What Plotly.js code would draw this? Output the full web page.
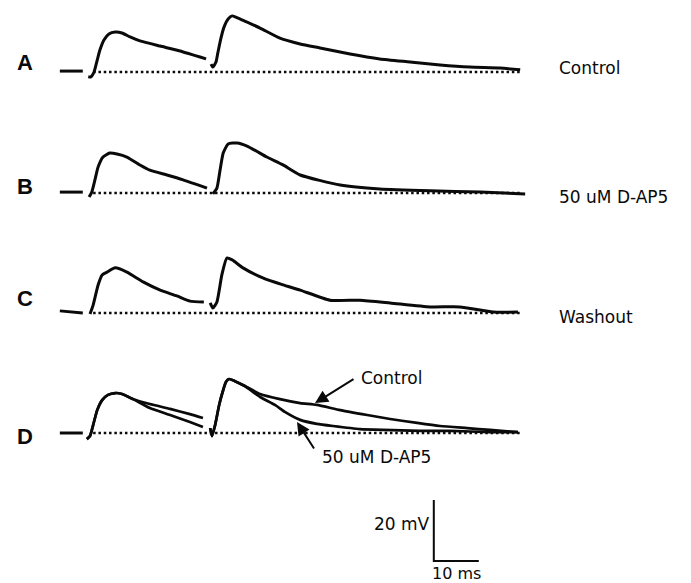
<!DOCTYPE html>
<html>
<head>
<meta charset="utf-8">
<script src="https://cdn.plot.ly/plotly-3.0.1.min.js"></script>
<style>html,body{margin:0;padding:0;background:#fff;}#chart{width:691px;height:583px;}</style>
</head>
<body>
<div id="chart"></div>
<script>
// ---- data (time in ms, membrane potential in mV relative to rest) ----
const panelLetters = ["A", "B", "C", "D"];
const conditionLabels = ["Control", "50 uM D-AP5", "Washout"];
const arrowLabels = ["Control", "50 uM D-AP5"];

const stubT = [-6.7, -1.6];
const stubA = [0.3, 0.3];
const stubB = [0.3, 0.3];
const stubC = [0.7, 0.0];
const stubD = [0.0, 0.0];

const baseT = [0.7, 95.8];
const baseV = [0, 0];

// Panel A - Control
const a1T = [-0.4, 0.2, 0.9, 1.6, 2.2, 3.1, 4.2, 5.6, 7.1, 8.9, 11.1, 15.6, 20.0, 25.8];
const a1V = [-1.6, -1.6, 0.0, 3.9, 7.2, 10.5, 12.5, 13.1, 12.8, 11.5, 10.2, 8.5, 6.9, 4.3];
const a2T = [26.9, 27.3, 28.0, 28.4, 29.1, 29.8, 30.7, 31.6, 32.4, 34.4, 37.8, 42.2, 46.7, 51.1, 57.8, 64.4, 71.1, 77.8, 84.4, 91.1, 95.6];
const a2V = [2.6, 1.6, 3.3, 6.2, 11.1, 14.8, 17.4, 18.4, 18.0, 16.7, 14.4, 11.1, 9.2, 7.9, 5.9, 4.3, 3.3, 2.3, 1.6, 1.3, 0.7];

// Panel B - 50 uM D-AP5
const b1T = [-0.2, 0.4, 1.1, 1.8, 2.9, 4.4, 6.0, 8.2, 11.1, 13.3, 17.1, 20.7, 26.0];
const b1V = [-1.3, 0.3, 4.3, 8.5, 11.8, 13.1, 12.8, 11.8, 9.2, 7.5, 5.9, 4.3, 1.6];
const b2T = [27.3, 28.2, 28.9, 29.6, 30.7, 32.7, 34.9, 39.3, 42.9, 46.7, 55.6, 64.4, 75.6, 86.7, 96.7];
const b2V = [-0.3, 1.6, 7.5, 13.1, 16.1, 16.4, 15.4, 11.8, 9.2, 5.9, 2.6, 1.3, 0.7, 0.3, -0.3];

// Panel C - Washout
const c1T = [0.0, 0.7, 1.8, 2.7, 3.8, 5.6, 8.2, 11.8, 15.6, 19.3, 22.2, 25.3];
const c1V = [-0.3, 2.6, 9.2, 12.5, 13.4, 14.8, 13.4, 10.2, 7.5, 5.6, 3.9, 3.6];
const c2T = [26.7, 27.3, 28.2, 29.3, 30.4, 31.6, 34.0, 38.4, 42.9, 46.7, 53.3, 60.0, 66.7, 75.6, 82.2, 89.6, 95.1];
const c2V = [3.3, 1.6, 3.6, 12.5, 18.0, 17.4, 14.8, 11.5, 9.2, 7.5, 4.2, 4.2, 3.3, 2.0, 2.0, 0.3, 0.3];

// Panel D - superimposed Control and D-AP5
const d1T = [-0.7, 0.0, 0.7, 1.6, 2.7, 4.0, 5.6, 7.1, 9.6, 13.3, 17.8, 22.2, 25.1];
const dCtl1V = [-2.0, -1.0, 2.6, 7.5, 10.8, 12.5, 13.1, 12.8, 11.1, 9.5, 7.9, 6.2, 4.9];
const dAp1V  = [-2.0, -1.0, 2.6, 7.5, 10.8, 12.5, 13.1, 12.8, 11.1, 8.2, 5.9, 3.6, 2.0];
const dCtl2T = [26.7, 27.1, 27.8, 28.7, 29.6, 30.2, 30.9, 32.2, 34.4, 37.8, 42.2, 46.7, 50.4, 55.6, 61.6, 66.7, 72.7, 77.8, 83.8, 88.9, 95.1];
const dCtl2V = [1.6, -1.0, 2.6, 9.2, 14.1, 16.7, 17.7, 17.0, 15.4, 12.8, 11.1, 9.8, 9.2, 7.5, 5.9, 4.6, 3.3, 2.3, 1.6, 1.0, 0.3];
const dAp2T  = [26.7, 27.1, 27.8, 28.7, 29.6, 30.2, 30.9, 32.2, 34.4, 37.8, 41.1, 43.3, 46.7, 50.4, 54.0, 60.0, 65.1, 73.3, 80.0, 88.9, 95.1];
const dAp2V  = [1.6, -1.0, 2.6, 9.2, 14.1, 16.7, 17.7, 17.0, 15.4, 11.8, 9.2, 6.9, 4.3, 3.0, 2.3, 1.3, 1.0, 0.7, 0.7, 0.3, 0.3];

// Scale bar sizes
const scaleMV = 20;
const scaleMS = 10;
const scaleLabels = ["20 mV", "10 ms"];

// ---- layout constants ----
const W = 691, H = 583;
const PX_PER_MS = 4.5, PX_PER_MV = 3.05;
const X0_PX = 90;                       // pixel of t = 0
const baselinePx = [72, 193, 313, 433, 561];
const scaleCornerT = 76.4;

function yRange(b) { const hi = b / PX_PER_MV; return [hi - H / PX_PER_MV, hi]; }
const xRange = [-X0_PX / PX_PER_MS, (W - X0_PX) / PX_PER_MS];

const black = "#0a0a0a";
const traceW = 3;
const axNames = ["y", "y2", "y3", "y4", "y5"];

function line(x, y, ax, w, dash) {
  return {type: "scatter", mode: "lines", x: x, y: y, yaxis: ax, xaxis: "x",
          line: {color: black, width: w || traceW, dash: dash || "solid", shape: "spline", smoothing: 0.5},
          hoverinfo: "skip", showlegend: false};
}
const dotted = "2.5px,2.8px";

const traces = [
  line(stubT, stubA, "y", 3), line(baseT, baseV, "y", 2.5, dotted), line(a1T, a1V, "y"), line(a2T, a2V, "y"),
  line(stubT, stubB, "y2", 3), line(baseT, baseV, "y2", 2.5, dotted), line(b1T, b1V, "y2"), line(b2T, b2V, "y2"),
  line(stubT, stubC, "y3", 3), line(baseT, baseV, "y3", 2.5, dotted), line(c1T, c1V, "y3"), line(c2T, c2V, "y3"),
  line(stubT, stubD, "y4", 3), line(baseT, baseV, "y4", 2.5, dotted),
  line(d1T, dCtl1V, "y4", 2.7), line(d1T, dAp1V, "y4", 2.7),
  line(dCtl2T, dCtl2V, "y4", 2.7), line(dAp2T, dAp2V, "y4", 2.7),
  {type: "scatter", mode: "lines", xaxis: "x", yaxis: "y5",
   x: [scaleCornerT, scaleCornerT, scaleCornerT + scaleMS], y: [scaleMV, 0, 0],
   line: {color: black, width: 2}, hoverinfo: "skip", showlegend: false}
];

const hidden = {visible: false, fixedrange: true};
const layout = {
  width: W, height: H, margin: {l: 0, r: 0, t: 0, b: 0},
  paper_bgcolor: "#fff", plot_bgcolor: "#fff", showlegend: false,
  xaxis: Object.assign({range: xRange, domain: [0, 1]}, hidden),
  annotations: []
};
axNames.forEach((n, i) => {
  const key = i === 0 ? "yaxis" : "yaxis" + (i + 1);
  layout[key] = Object.assign({range: yRange(baselinePx[i]), domain: [0, 1]}, hidden);
  if (i > 0) layout[key].overlaying = "y";
});

const labelFont = {family: "DejaVu Sans", size: 17, color: black};
// panel letters
const letterV = [3.0, 2.0, 4.9, -1.3];
panelLetters.forEach((L, i) => {
  layout.annotations.push({text: "<b>" + L + "</b>", xref: "x", yref: axNames[i], x: -14.4, y: letterV[i],
    showarrow: false, xanchor: "center", yanchor: "middle",
    font: {family: "Liberation Sans", size: 22, color: black}});
});
// condition labels
const condV = [1.3, -1.3, -1.3];
conditionLabels.forEach((t, i) => {
  layout.annotations.push({text: t, xref: "x", yref: axNames[i], x: 103.8, y: condV[i],
    showarrow: false, xanchor: "left", yanchor: "middle", font: labelFont});
});
// arrows in D
layout.annotations.push({text: "", xref: "x", yref: "y4", x: 50.0, y: 9.8, ax: 40, ay: -25,
  showarrow: true, arrowhead: 2, arrowsize: 1.3, arrowwidth: 2, arrowcolor: black, standoff: 0});
layout.annotations.push({text: "", xref: "x", yref: "y4", x: 46.0, y: 3.6, ax: 18, ay: 28,
  showarrow: true, arrowhead: 2, arrowsize: 1.3, arrowwidth: 2, arrowcolor: black, standoff: 0});
layout.annotations.push({text: arrowLabels[0], xref: "x", yref: "y4", x: 59.8, y: 18.0,
  showarrow: false, xanchor: "left", yanchor: "middle", font: labelFont});
layout.annotations.push({text: arrowLabels[1], xref: "x", yref: "y4", x: 51.1, y: -7.9,
  showarrow: false, xanchor: "left", yanchor: "middle", font: labelFont});
// scale bar labels
layout.annotations.push({text: scaleLabels[0], xref: "x", yref: "y5", x: scaleCornerT, y: scaleMV * 0.6,
  xshift: -2, showarrow: false, xanchor: "right", yanchor: "middle", font: labelFont});
layout.annotations.push({text: scaleLabels[1], xref: "x", yref: "y5", x: scaleCornerT + scaleMS / 2, y: 0,
  yshift: -1, showarrow: false, xanchor: "center", yanchor: "top",
  font: {family: "DejaVu Sans", size: 16, color: black}});

Plotly.newPlot("chart", traces, layout, {staticPlot: true, displayModeBar: false});
</script>
</body>
</html>
